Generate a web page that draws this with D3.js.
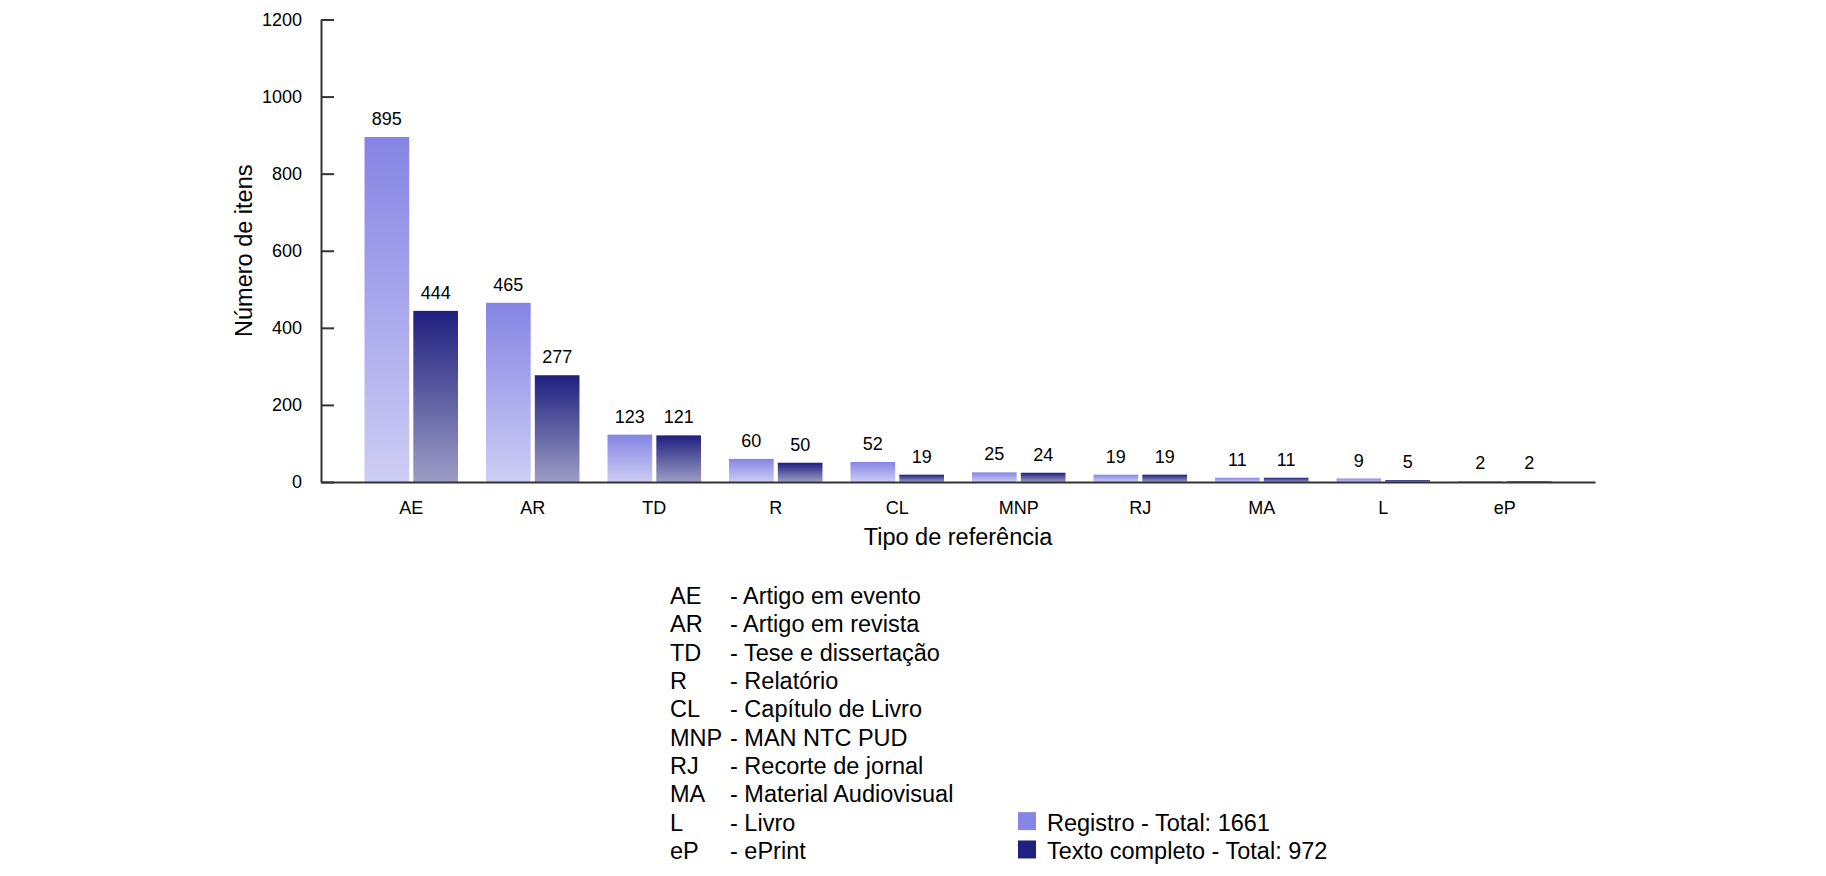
<!DOCTYPE html>
<html>
<head>
<meta charset="utf-8">
<script src="https://cdn.jsdelivr.net/npm/d3@7"></script>
<style>
  html, body { margin: 0; padding: 0; background: #fff; }
  svg { display: block; }
  text { font-family: "Liberation Sans", Arial, Helvetica, sans-serif; fill: #000; }
</style>
</head>
<body>
<svg id="chart" width="1826" height="876"></svg>
<script>
const categories = ["AE", "AR", "TD", "R", "CL", "MNP", "RJ", "MA", "L", "eP"];
const descriptions = ["Artigo em evento", "Artigo em revista", "Tese e dissertação", "Relatório",
  "Capítulo de Livro", "MAN NTC PUD", "Recorte de jornal", "Material Audiovisual", "Livro", "ePrint"];
const registro = [895, 465, 123, 60, 52, 25, 19, 11, 9, 2];
const textoCompleto = [444, 277, 121, 50, 19, 24, 19, 11, 5, 2];
const yTicks = [0, 200, 400, 600, 800, 1000, 1200];
const seriesNames = ["Registro", "Texto completo"];

(function () {
const svg = d3.select("#chart");
const pLeft = 321, pRight = 1595, pTop = 19.5, pBottom = 482;

const x = d3.scaleBand().domain(categories).range([pLeft, pRight])
  .paddingInner(0.2305).paddingOuter(0.358);
const xs = d3.scaleBand().domain([0, 1]).range([0, x.bandwidth()]).paddingInner(0.085);
const y = d3.scaleLinear().domain([0, 1200]).range([pBottom, pTop]);

// gradients
const defs = svg.append("defs");
const grads = [
  { id: "gReg", c1: "#8584e4", c2: "#cdcdf4" },
  { id: "gTxt", c1: "#1f1f7f", c2: "#9d9dc6" }
];
grads.forEach(g => {
  const lg = defs.append("linearGradient").attr("id", g.id)
    .attr("x1", 0).attr("y1", 0).attr("x2", 0).attr("y2", 1);
  lg.append("stop").attr("offset", "0%").attr("stop-color", g.c1);
  lg.append("stop").attr("offset", "100%").attr("stop-color", g.c2);
});

const series = [registro, textoCompleto];

// bars
series.forEach((vals, si) => {
  svg.append("g").selectAll("rect").data(categories).join("rect")
    .attr("x", (c) => x(c) + xs(si))
    .attr("y", (c, i) => y(vals[i]))
    .attr("width", xs.bandwidth())
    .attr("height", (c, i) => y(0) - y(vals[i]))
    .attr("fill", `url(#${grads[si].id})`);
  svg.append("g").selectAll("text").data(categories).join("text")
    .attr("x", (c) => x(c) + xs(si) + xs.bandwidth() / 2)
    .attr("y", (c, i) => y(vals[i]) - 12)
    .attr("text-anchor", "middle")
    .style("font-size", "18px")
    .text((c, i) => vals[i]);
});

// y axis
const yAxis = svg.append("g").attr("transform", `translate(${pLeft},0)`)
  .call(d3.axisLeft(y).tickValues(yTicks).tickFormat(d3.format("d"))
    .tickSizeInner(-13).tickSizeOuter(0).tickPadding(19));
yAxis.select(".domain").attr("stroke", "#333").attr("stroke-width", 2);
yAxis.selectAll(".tick line").attr("stroke", "#333").attr("stroke-width", 2);
yAxis.selectAll(".tick text").style("font-size", "18px")
  .style("font-family", '"Liberation Sans", Arial, sans-serif').attr("fill", "#000");

// x axis
const xAxis = svg.append("g").attr("transform", `translate(0,${pBottom})`)
  .call(d3.axisBottom(x).tickSize(0).tickPadding(19));
xAxis.select(".domain").attr("stroke", "#333").attr("stroke-width", 2);
xAxis.selectAll(".tick text").style("font-size", "18px")
  .style("font-family", '"Liberation Sans", Arial, sans-serif').attr("fill", "#000");

// axis titles
svg.append("text").attr("x", (pLeft + pRight) / 2).attr("y", 545)
  .attr("text-anchor", "middle").style("font-size", "23.5px").text("Tipo de referência");
svg.append("text").attr("transform", `translate(252,${(pTop + pBottom) / 2}) rotate(-90)`)
  .attr("text-anchor", "middle").style("font-size", "23.5px").text("Número de itens");

// abbreviation legend
const abbr = svg.append("g");
categories.forEach((c, i) => {
  const by = 604 + i * 28.33;
  abbr.append("text").attr("x", 670).attr("y", by).style("font-size", "23.5px").text(c);
  abbr.append("text").attr("x", 730).attr("y", by).style("font-size", "23.5px").text("- " + descriptions[i]);
});

// series legend
const totals = series.map(v => d3.sum(v));
const legendColors = ["#8686e6", "#202080"];
seriesNames.forEach((n, i) => {
  const by = 604 + (8 + i) * 28.33;
  svg.append("rect").attr("x", 1018).attr("y", by - 18.5).attr("width", 18).attr("height", 18)
    .attr("fill", legendColors[i]);
  svg.append("text").attr("x", 1047).attr("y", by).style("font-size", "23.5px")
    .text(`${n} - Total: ${totals[i]}`);
});
})();
</script>
</body>
</html>
